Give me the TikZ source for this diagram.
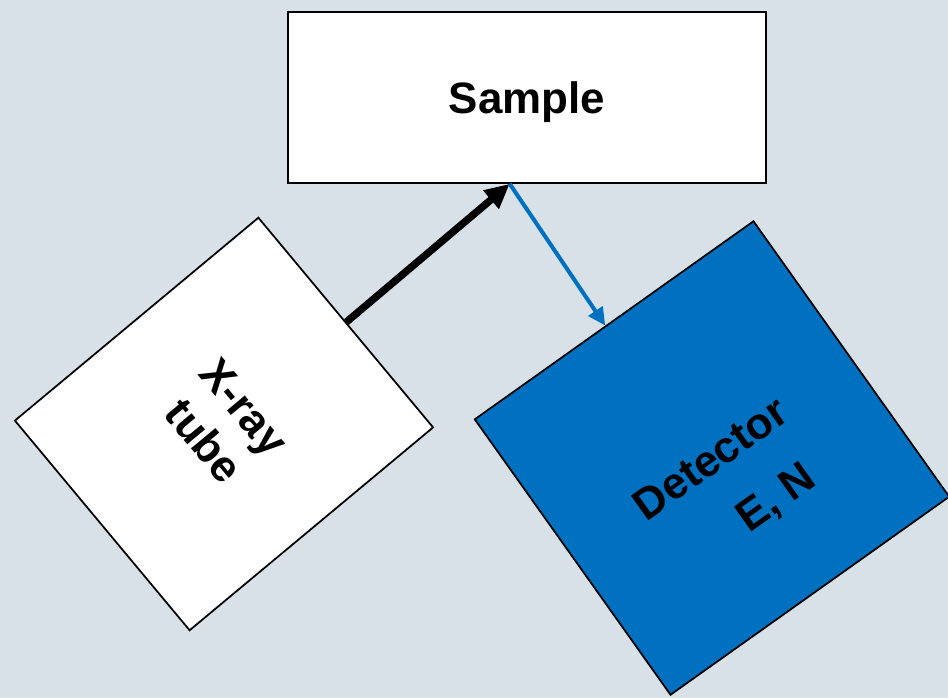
\documentclass[tikz,border=0pt]{standalone}
\usepackage{fontspec}
\setmainfont{Liberation Sans}
\usetikzlibrary{arrows.meta,calc}
\definecolor{bgblue}{RGB}{217,225,232}
\definecolor{detblue}{RGB}{0,112,192}
\tikzset{
  box/.style={draw=black,line width=1pt,inner sep=0pt,align=center,font=\bfseries\fontsize{25}{30}\selectfont},
  label/.style={inner sep=0pt,align=center,font=\bfseries\fontsize{25}{30}\selectfont},
}
\begin{document}
\begin{tikzpicture}[x=0.02cm,y=-0.02cm]

        %Hintergrund
        \fill[bgblue] (0,0) rectangle (948,698);
        \useasboundingbox (0,0) rectangle (948,698);

        %Sample
        \node[box,fill=white,text depth=0pt,minimum width=9.56cm,minimum height=3.42cm] (sample) at (527,97.5) {Sample};
        \coordinate (hit) at ($(sample.south west)!0.464!(sample.south east)$);

        %X-ray tube
        \node[box,fill=white,rotate=-50.2,minimum width=5.46cm,minimum height=6.34cm] (tube) at (224,424) {X-ray\\tube};

        %Detector
        \node[box,fill=detblue,rotate=35.4,minimum width=6.84cm,minimum height=6.76cm] (det) at (712,458) {};
        \node[label,rotate=35.4] (dettext) at ($(det.center)+(20,31)$) {Detector\\[9pt]\hspace*{1.24cm}E, N};

        \draw[line width=4.2pt,-{Triangle[length=14pt,width=13pt]}] (tube.north) -- (hit);
        \draw[detblue,line width=2.3pt,-{Triangle[length=10pt,width=9.5pt]}] (hit) -- ($(det.north west)!0.47!(det.north east)$);
    \end{tikzpicture}
\end{document}
